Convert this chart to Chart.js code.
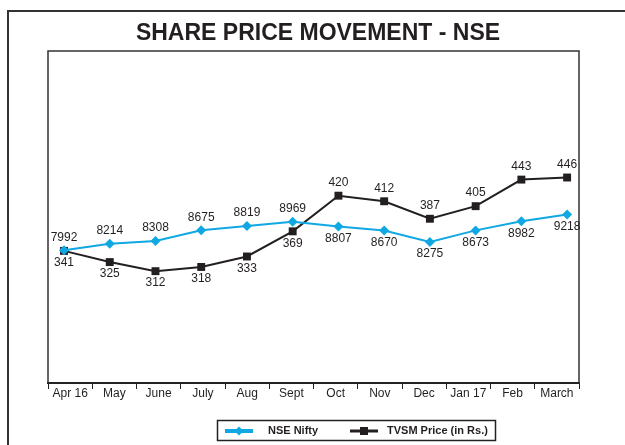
<!DOCTYPE html>
<html>
<head>
<meta charset="utf-8">
<script src="https://cdn.jsdelivr.net/npm/chart.js@4"></script>
<style>
  html, body { margin: 0; padding: 0; background: #fff; }
  #wrap { position: relative; width: 625px; height: 445px; }
</style>
</head>
<body>
<div id="wrap"><canvas id="chart" width="625" height="445"></canvas></div>
<script>
// Datos del gráfico
const months = ['Apr 16', 'May', 'June', 'July', 'Aug', 'Sept', 'Oct', 'Nov', 'Dec', 'Jan 17', 'Feb', 'March'];
const niftyValues = [7992, 8214, 8308, 8675, 8819, 8969, 8807, 8670, 8275, 8673, 8982, 9218];
const tvsmValues = [341, 325, 312, 318, 333, 369, 420, 412, 387, 405, 443, 446];

const FONT = '"Liberation Sans", Arial, Helvetica, sans-serif';
const CYAN = '#10a8e2';
const DARK = '#231f20';

// Marcos, título, etiquetas y leyenda
const framePlugin = {
    id: 'frame',
    afterDraw(chart) {
        const ctx = chart.ctx;
        const a = chart.chartArea;
        ctx.save();

        // marco exterior
        ctx.strokeStyle = '#333';
        ctx.lineWidth = 2;
        ctx.beginPath();
        ctx.moveTo(8, 445);
        ctx.lineTo(8, 11);
        ctx.lineTo(625, 11);
        ctx.stroke();

        // caja del área de trazado
        ctx.lineWidth = 1.5;
        ctx.beginPath();
        ctx.moveTo(a.left, a.bottom);
        ctx.lineTo(a.left, a.top);
        ctx.lineTo(a.right, a.top);
        ctx.lineTo(a.right, a.bottom);
        ctx.stroke();

        // título
        ctx.fillStyle = DARK;
        ctx.font = 'bold 23px ' + FONT;
        ctx.textAlign = 'center';
        ctx.textBaseline = 'middle';
        ctx.fillText('SHARE PRICE MOVEMENT - NSE', 318, 34);

        // etiquetas de datos
        ctx.font = '12px ' + FONT;
        const nMeta = chart.getDatasetMeta(0);
        const tMeta = chart.getDatasetMeta(1);
        nMeta.data.forEach((pt, i) => {
            const dy = i < 6 ? -13 : 12;
            ctx.fillText(String(niftyValues[i]), pt.x, pt.y + dy);
        });
        tMeta.data.forEach((pt, i) => {
            const dy = i < 6 ? 12 : -13;
            ctx.fillText(String(tvsmValues[i]), pt.x, pt.y + dy);
        });

        // leyenda
        ctx.lineWidth = 1.5;
        ctx.strokeStyle = '#222';
        ctx.strokeRect(217.5, 420.5, 278, 20);

        ctx.strokeStyle = CYAN;
        ctx.lineWidth = 4;
        ctx.beginPath();
        ctx.moveTo(225, 431);
        ctx.lineTo(253, 431);
        ctx.stroke();
        ctx.fillStyle = CYAN;
        ctx.beginPath();
        ctx.moveTo(239, 426.5);
        ctx.lineTo(243.5, 431);
        ctx.lineTo(239, 435.5);
        ctx.lineTo(234.5, 431);
        ctx.closePath();
        ctx.fill();

        ctx.strokeStyle = DARK;
        ctx.lineWidth = 3;
        ctx.beginPath();
        ctx.moveTo(350, 431);
        ctx.lineTo(378, 431);
        ctx.stroke();
        ctx.fillStyle = DARK;
        ctx.fillRect(360, 427, 8, 8);

        ctx.fillStyle = DARK;
        ctx.font = 'bold 11px ' + FONT;
        ctx.textAlign = 'left';
        ctx.fillText('NSE Nifty', 268, 431);
        ctx.fillText('TVSM Price (in Rs.)', 387, 431);

        ctx.restore();
    }
};

const ctx = document.getElementById('chart').getContext('2d');
new Chart(ctx, {
    type: 'line',
    data: {
        datasets: [{
            label: 'NSE Nifty',
            data: niftyValues.map((v, i) => ({ x: i, y: v })),
            xAxisID: 'xd',
            yAxisID: 'yNifty',
            borderColor: CYAN,
            backgroundColor: CYAN,
            borderWidth: 2,
            pointStyle: 'rectRot',
            pointRadius: 5,
            pointBorderWidth: 0,
            tension: 0
        }, {
            label: 'TVSM Price (in Rs.)',
            data: tvsmValues.map((v, i) => ({ x: i, y: v })),
            xAxisID: 'xd',
            yAxisID: 'yTvsm',
            borderColor: DARK,
            backgroundColor: DARK,
            borderWidth: 2,
            pointStyle: 'rect',
            pointRadius: 5.6,
            pointBorderWidth: 0,
            tension: 0
        }]
    },
    options: {
        responsive: false,
        animation: false,
        events: [],
        layout: { padding: { left: 48, right: 46, top: 51, bottom: 0 } },
        plugins: {
            legend: { display: false },
            title: { display: false },
            tooltip: { enabled: false }
        },
        scales: {
            x: {
                type: 'category',
                labels: months,
                display: true,
                offset: true,
                position: 'bottom',
                grid: { offset: true, drawOnChartArea: false, drawTicks: true, tickLength: 6, color: '#222', lineWidth: 1 },
                border: { display: true, color: '#222', width: 2 },
                ticks: { color: DARK, font: { family: FONT, size: 12 }, padding: -3, maxRotation: 0, autoSkip: false },
                afterFit(scale) { scale.height = 62; }
            },
            xd: { type: 'linear', display: false, min: -0.35, max: 11.26 },
            yNifty: { type: 'linear', display: false, min: 3460, max: 14800 },
            yTvsm: { type: 'linear', display: false, min: 152, max: 627 }
        }
    },
    plugins: [framePlugin]
});
</script>
</body>
</html>
